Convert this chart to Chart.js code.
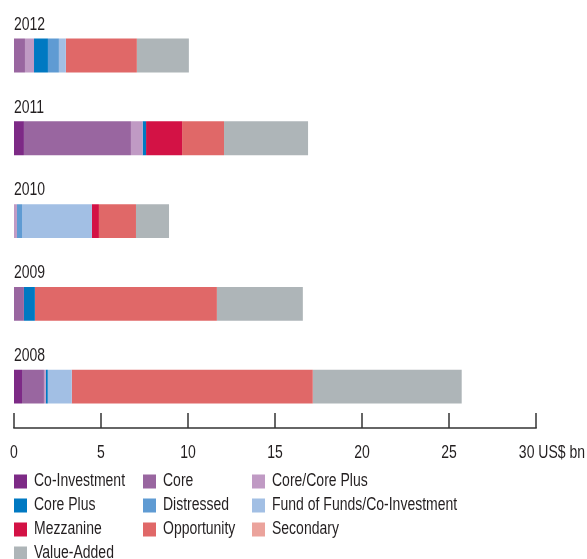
<!DOCTYPE html>
<html>
<head>
<meta charset="utf-8">
<script src="https://cdn.jsdelivr.net/npm/chart.js@4"></script>
<style>
html,body{margin:0;padding:0;background:#fff;}
canvas{display:block;}
</style>
</head>
<body>
<canvas id="c" width="587" height="559"></canvas>
<script>
const years = ['2012', '2011', '2010', '2009', '2008'];
const seriesNames = ['Co-Investment', 'Core', 'Core/Core Plus', 'Core Plus', 'Distressed', 'Fund of Funds/Co-Investment', 'Mezzanine', 'Opportunity', 'Secondary', 'Value-Added'];
const coInvestment = [0, 0.57, 0, 0, 0.46];
const core = [0.63, 6.15, 0, 0.57, 1.26];
const coreCorePlus = [0.52, 0.67, 0.17, 0, 0.11];
const corePlus = [0.80, 0.20, 0, 0.63, 0.11];
const distressed = [0.63, 0, 0.29, 0, 0];
const fundOfFunds = [0.40, 0, 4.02, 0, 1.38];
const mezzanine = [0, 2.07, 0.40, 0, 0];
const opportunity = [4.08, 2.41, 2.13, 10.46, 13.85];
const secondary = [0, 0, 0, 0, 0];
const valueAdded = [2.99, 4.83, 1.90, 4.94, 8.56];
const xTicks = [0, 5, 10, 15, 20, 25, 30];
const unitLabel = 'US$ bn';

const seriesValues = [coInvestment, core, coreCorePlus, corePlus, distressed, fundOfFunds, mezzanine, opportunity, secondary, valueAdded];
const colors = ['#7d2a86', '#9966a0', '#c09ac4', '#0079c2', '#5f9bd3', '#a2bfe4', '#d31245', '#e06868', '#eba39c', '#aeb5b8'];

const FONT = '"Liberation Sans", Arial, sans-serif';
const FSIZE = 17.5;
const SQUEEZE = 0.8;
const TEXT = '#231f20';

function drawText(ctx, txt, x, y, align) {
  ctx.save();
  ctx.font = FSIZE + 'px ' + FONT;
  ctx.fillStyle = TEXT;
  ctx.textBaseline = 'middle';
  ctx.textAlign = 'left';
  const w = ctx.measureText(txt).width * SQUEEZE;
  let sx = x;
  if (align === 'center') sx = x - w / 2;
  else if (align === 'right') sx = x - w;
  ctx.translate(sx, y);
  ctx.scale(SQUEEZE, 1);
  ctx.fillText(txt, 0, 0);
  ctx.restore();
}

const yearLabels = {
  id: 'yearLabels',
  afterDatasetsDraw(chart) {
    const ctx = chart.ctx;
    const y = chart.scales.y;
    const meta = chart.getDatasetMeta(0);
    years.forEach((yr, i) => {
      const el = meta.data[i];
      const h = el ? el.height : 34;
      const cy = y.getPixelForValue(i);
      drawText(ctx, yr, chart.chartArea.left, cy - h / 2 - 13.5, 'left');
    });
  }
};

const axisDecor = {
  id: 'axisDecor',
  afterDraw(chart) {
    const ctx = chart.ctx;
    const x = chart.scales.x;
    const bottom = chart.chartArea.bottom;
    ctx.save();
    ctx.strokeStyle = '#333';
    ctx.lineWidth = 1.5;
    ctx.beginPath();
    ctx.moveTo(x.getPixelForValue(xTicks[0]) - 0.75, bottom);
    ctx.lineTo(x.getPixelForValue(xTicks[xTicks.length - 1]) + 0.75, bottom);
    ctx.stroke();
    xTicks.forEach(v => {
      const px = x.getPixelForValue(v);
      ctx.beginPath();
      ctx.moveTo(px, bottom - 15);
      ctx.lineTo(px, bottom);
      ctx.stroke();
    });
    ctx.restore();
    xTicks.forEach((v, i) => {
      const px = x.getPixelForValue(v);
      if (i === xTicks.length - 1) {
        drawText(ctx, String(v) + ' ' + unitLabel, chart.width - 2, bottom + 25, 'right');
      } else {
        drawText(ctx, String(v), px, bottom + 25, 'center');
      }
    });
    // legend
    const colX = [14, 143, 252];
    const rowY = [481.5, 505.5, 529.5, 553.5];
    seriesNames.forEach((name, i) => {
      const col = i % 3, row = Math.floor(i / 3);
      const sx = colX[col], sy = rowY[row];
      ctx.fillStyle = colors[i];
      ctx.fillRect(sx, sy - 7, 13, 14);
      drawText(ctx, name, sx + 20, sy, 'left');
    });
  }
};

new Chart(document.getElementById('c'), {
  type: 'bar',
  data: {
    labels: years,
    datasets: seriesNames.map((n, i) => ({
      label: n,
      data: seriesValues[i],
      backgroundColor: colors[i],
      borderWidth: 0,
      categoryPercentage: 0.82,
      barPercentage: 0.5
    }))
  },
  options: {
    indexAxis: 'y',
    responsive: false,
    animation: false,
    devicePixelRatio: 1,
    layout: { padding: { left: 14, right: 51, top: 14.2, bottom: 131 } },
    plugins: { legend: { display: false }, tooltip: { enabled: false } },
    scales: {
      x: {
        stacked: true,
        min: 0, max: 30,
        afterBuildTicks(scale) { scale.ticks = xTicks.map(v => ({ value: v })); },
        grid: { display: false, drawTicks: false },
        border: { display: false },
        ticks: { display: false }
      },
      y: {
        stacked: true,
        display: false
      }
    }
  },
  plugins: [yearLabels, axisDecor]
});
</script>
</body>
</html>
